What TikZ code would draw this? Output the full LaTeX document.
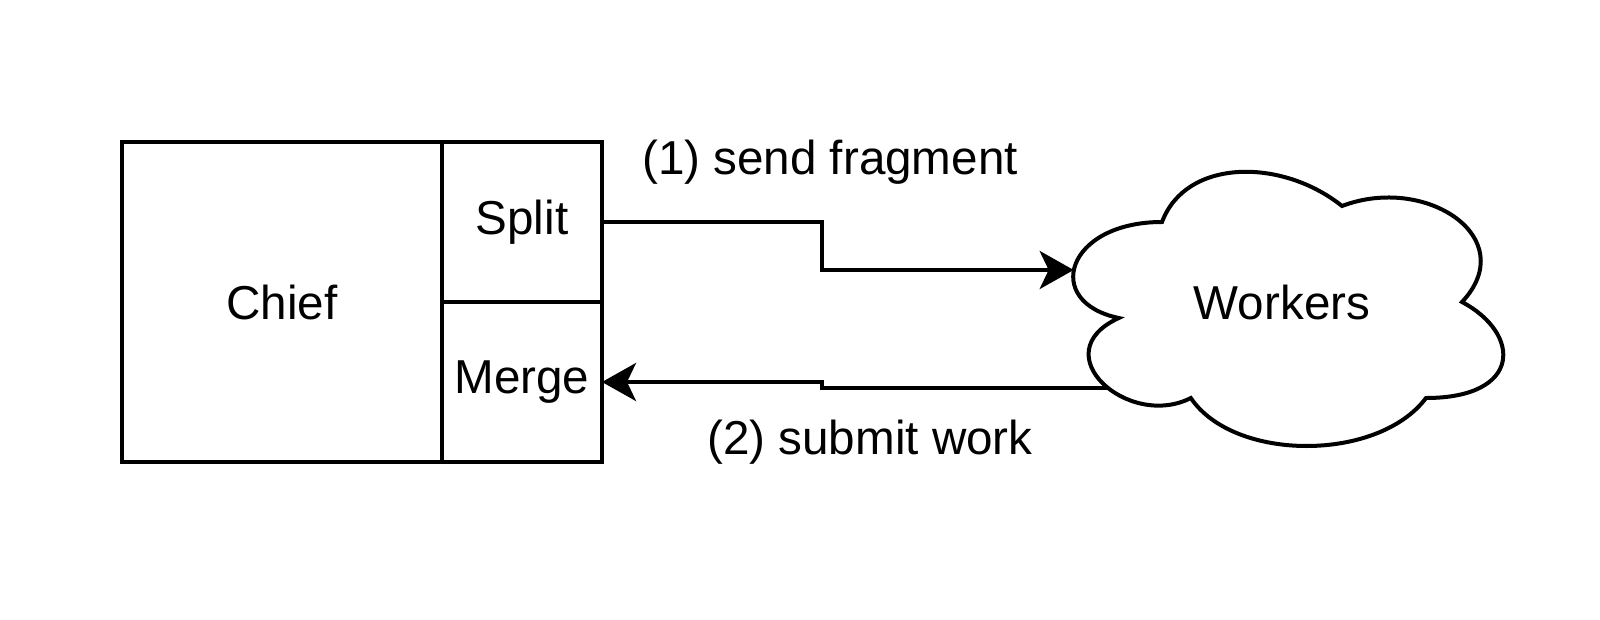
\documentclass[tikz,border=0pt]{standalone}
\usepackage{fontspec}
\setmainfont{Liberation Sans}
\usetikzlibrary{arrows.meta}

\begin{document}
\begin{tikzpicture}[x=0.5pt,y=-0.5pt,font=\fontsize{23.8}{28}\selectfont,
	box/.style={draw,line width=2pt,inner sep=0pt,outer sep=0pt,align=center},
	flow/.style={line width=2pt,-{Stealth[length=17pt,width=19pt,inset=4.5pt]}}]

	\fill[white] (0,0) rectangle (1600,620);
	\useasboundingbox (0,0) rectangle (1600,620);

	\node[box, minimum width=160pt, minimum height=160pt] (chief) at (282,302) {Chief};
	\node[box, minimum width=80pt, minimum height=80pt, anchor=north west] (split) at (chief.north east) {Split};
	\node[box, minimum width=80pt, minimum height=80pt, anchor=north] (merge) at (split.south) {Merge};

	% cloud in its own box, w=480 h=320
	\begin{scope}[shift={(521pt,-71pt)},x=240pt,y=-160pt]
		\draw[line width=2pt] (0.25,0.25) .. controls (0.05,0.25) and (0,0.5) .. (0.16,0.55)
			.. controls (0,0.66) and (0.18,0.9) .. (0.31,0.8)
			.. controls (0.4,1) and (0.7,1) .. (0.8,0.8)
			.. controls (1,0.8) and (1,0.6) .. (0.875,0.5)
			.. controls (1,0.3) and (0.8,0.1) .. (0.625,0.2)
			.. controls (0.5,0.05) and (0.3,0.05) .. (0.25,0.25) -- cycle;
		\coordinate (workers-in) at (0.066,0.4);
		\coordinate (workers-out) at (0.135,0.77);
	\end{scope}
	\node (workers) at (1282,302) {Workers};

	\coordinate (jog) at (822,0);
	\draw[flow] (split.east) -| (jog |- workers-in) -- (workers-in);
	\draw[flow] (workers-out) -| (jog |- merge.east) -- (merge.east);

	\node (send) at (830,162) {(1) send fragment};
	\node (submit) at (870,442) {(2) submit work};
\end{tikzpicture}
\end{document}
